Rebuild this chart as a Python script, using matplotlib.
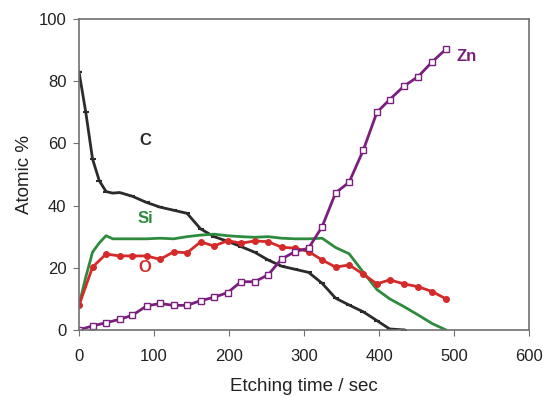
import matplotlib
matplotlib.use("Agg")
import matplotlib.pyplot as plt

plt.rcParams['font.family'] = ['Liberation Sans', 'DejaVu Sans']

t = [0, 18, 36, 54, 71, 90, 108, 126, 144, 162, 180, 198, 216, 234,
     252, 270, 288, 306, 324, 342, 360, 379, 397, 414, 433, 452, 471, 489]

zn = [0, 1.3, 2.3, 3.4, 4.7, 7.7, 8.5, 7.9, 7.9, 9.4, 10.5, 12, 15.5, 15.5,
      17.7, 22.8, 25.2, 26.3, 33.2, 44.1, 47.5, 57.9, 70, 74.1, 78.4, 81.5, 86.3, 90.3]

o = [7.9, 20.2, 24.4, 23.8, 23.8, 23.8, 22.7, 25.1, 24.8, 28.3, 27, 28.7, 27.9, 28.6,
     28.4, 26.6, 26.3, 25.2, 22.5, 20.2, 20.9, 17.9, 14.8, 16.1, 14.8, 13.9, 12.3, 10.0]

si_t = [0, 9, 18, 27, 36, 45, 54, 71, 90, 108, 126, 144, 162, 180, 198, 216,
        234, 252, 270, 288, 306, 324, 342, 360, 379, 397, 414, 433, 452, 471, 489]
si = [8, 17, 25, 28, 30.3, 29.3, 29.3, 29.3, 29.3, 29.5, 29.3, 30, 30.5, 30.8, 30.3, 30,
      29.8, 30, 29.5, 29.3, 29.3, 29.5, 26.5, 24.5, 18.5, 13, 10, 7.5, 4.8, 2, 0]

c_t = [0, 9, 18, 27, 36, 45, 54, 71, 90, 108, 126, 144, 162, 180, 198, 216,
       234, 252, 270, 288, 306, 324, 342, 360, 379, 397, 414, 433]
c = [83, 70, 55, 48, 44.5, 44, 44.2, 43, 41, 39.5, 38.5, 37.5, 32.5, 30, 28.5, 26.8,
     25, 22.5, 20.5, 19.5, 18.5, 15, 10.2, 8, 5.8, 3, 0.3, 0]

col_c = '#2b2b2b'
col_si = '#2e8b3e'
col_o = '#d42a2a'
col_zn = '#7a1f7e'

fig = plt.figure(figsize=(5.45, 3.97), dpi=100)
ax = fig.add_axes([0.145, 0.169, 0.826, 0.783])

ax.plot(c_t, c, color=col_c, lw=2, marker='_', ms=4, mew=1.5)
ax.plot(si_t, si, color=col_si, lw=2)
ax.plot(t, o, color=col_o, lw=2, marker='o', ms=4)
ax.plot(t, zn, color=col_zn, lw=2, marker='s', ms=4, mfc='white', mew=1)

ax.text(88, 61, 'C', color=col_c, fontsize=12, fontweight='bold', ha='center', va='center')
ax.text(88, 36, 'Si', color=col_si, fontsize=12, fontweight='bold', ha='center', va='center')
ax.text(88, 20, 'O', color=col_o, fontsize=12, fontweight='bold', ha='center', va='center')
ax.text(517, 88, 'Zn', color=col_zn, fontsize=12, fontweight='bold', ha='center', va='center')

ax.set_xlim(0, 600)
ax.set_ylim(0, 100)
ax.set_xticks([0, 100, 200, 300, 400, 500, 600])
ax.set_yticks([0, 20, 40, 60, 80, 100])
for s in ax.spines.values():
    s.set_color('#707070')
    s.set_linewidth(1.2)
ax.tick_params(direction='out', length=4, color='#707070', labelsize=12, labelcolor='#222222')
ax.tick_params(axis='x', pad=10)
ax.tick_params(axis='y', pad=5)
ax.set_xlabel('Etching time / sec', fontsize=13.5, color='#222222', labelpad=10)
ax.set_ylabel('Atomic %', fontsize=13.5, color='#222222', labelpad=4)

fig.savefig('out.png', dpi=100)
